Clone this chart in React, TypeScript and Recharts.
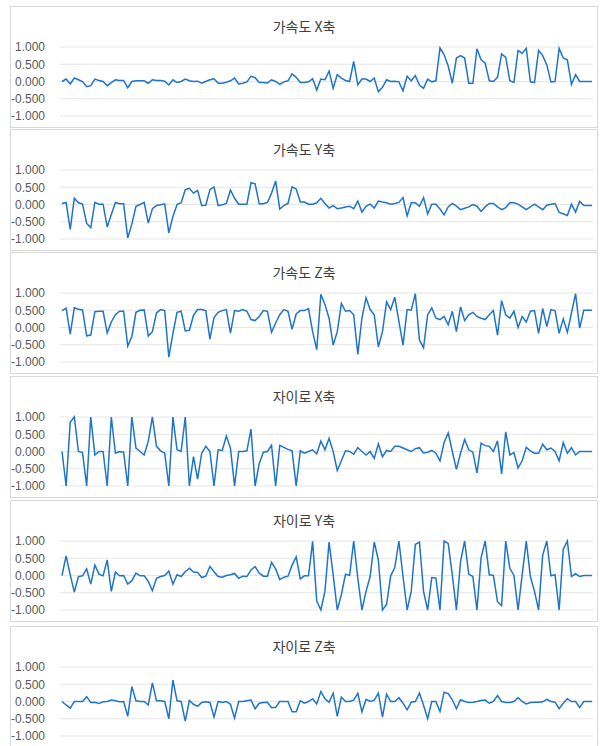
import React from "react";
import { LineChart, Line, XAxis, YAxis, CartesianGrid } from "recharts";

// 가속도 / 자이로 센서 값 (130 samples each)
const accX = [
  0.0, 0.07, -0.07, 0.1, 0.05, 0.0, -0.15, -0.12, 0.07, 0.03,
  0.0, -0.12, -0.03, 0.05, 0.03, 0.03, -0.18, 0.0, 0.02, 0.02,
  0.02, -0.05, 0.05, 0.03, 0.03, 0.01, -0.1, 0.05, -0.03, 0.0,
  0.07, 0.02, 0.0, 0.01, -0.05, 0.0, 0.05, 0.08, -0.05, -0.05,
  -0.02, 0.02, 0.1, -0.07, -0.05, -0.01, 0.15, 0.11, -0.03, -0.03,
  -0.04, 0.05, 0.0, -0.08, -0.01, 0.02, 0.22, 0.12, -0.03, -0.03,
  -0.01, 0.08, -0.25, 0.07, 0.05, 0.3, -0.2, 0.2, 0.1, 0.03,
  0.0, 0.58, -0.1, 0.07, 0.07, 0.0, 0.1, -0.3, -0.17, 0.05,
  0.0, 0.01, -0.01, -0.27, 0.15, 0.02, 0.17, -0.1, -0.2, 0.07,
  -0.01, 0.02, 0.97, 0.78, 0.45, -0.05, 0.68, 0.75, 0.68, -0.05,
  -0.05, 0.95, 0.63, 0.53, 0.02, 0.0, 0.12, 0.8, 0.7, 0.02,
  -0.03, 0.9, 0.82, 0.96, -0.01, -0.03, 0.9, 0.75, 0.48, -0.01,
  0.0, 0.96, 0.68, 0.63, -0.08, 0.2, 0.0, 0.0, 0.0, 0.0,
];

const accY = [
  0.03, 0.06, -0.72, 0.18, 0.05, 0.01, -0.55, -0.67, 0.06, 0.01,
  0.01, -0.65, -0.29, 0.06, 0.02, 0.02, -0.97, -0.57, -0.05, 0.0,
  0.06, -0.54, -0.12, -0.03, -0.01, 0.02, -0.82, -0.35, 0.0, 0.05,
  0.43, 0.47, 0.33, 0.41, -0.03, -0.02, 0.43, 0.51, -0.03, -0.01,
  0.03, 0.42, 0.18, 0.01, 0.01, 0.01, 0.63, 0.6, 0.02, 0.02,
  0.06, 0.33, 0.68, -0.13, -0.03, 0.03, 0.51, 0.45, 0.07, 0.07,
  0.01, 0.01, 0.05, 0.18, 0.03, -0.1, -0.03, -0.12, -0.1, -0.07,
  -0.05, -0.12, 0.1, -0.22, -0.05, 0.01, -0.1, 0.1, 0.07, 0.05,
  0.01, 0.03, 0.06, 0.2, -0.33, 0.05, 0.05, -0.05, 0.2, -0.27,
  0.01, 0.01, -0.13, -0.3, -0.07, 0.03, -0.05, -0.15, -0.11, -0.07,
  0.0, -0.05, -0.2, -0.07, 0.03, 0.03, -0.07, -0.15, -0.09, 0.05,
  0.05, 0.01, -0.07, -0.15, -0.07, 0.01, -0.07, -0.15, -0.02, 0.01,
  0.03, -0.23, -0.27, -0.32, 0.01, -0.22, 0.09, -0.03, -0.03, -0.03,
];

const accZ = [
  0.49, 0.56, -0.19, 0.57, 0.53, 0.51, -0.24, -0.22, 0.46, 0.47,
  0.47, -0.16, 0.16, 0.37, 0.47, 0.47, -0.54, -0.26, 0.44, 0.5,
  0.51, -0.25, -0.12, 0.42, 0.52, 0.49, -0.86, -0.17, 0.44, 0.47,
  -0.1, -0.08, 0.35, 0.52, 0.52, 0.49, -0.34, 0.29, 0.44, 0.49,
  0.52, -0.16, 0.49, 0.47, 0.52, 0.47, 0.23, 0.2, 0.32, 0.49,
  0.47, -0.14, 0.13, 0.37, 0.52, 0.47, -0.05, 0.39, 0.49, 0.49,
  0.55, -0.12, -0.64, 0.96, 0.67, 0.27, -0.51, -0.12, 0.7, 0.47,
  0.49, 0.37, -0.78, 0.27, 0.86, 0.52, 0.37, -0.56, -0.12, 0.74,
  0.52, 0.88, 0.18, -0.51, 0.52, 0.5, 0.98, -0.36, -0.59, 0.37,
  0.57, 0.27, 0.23, 0.32, 0.08, 0.47, -0.12, 0.6, 0.2, 0.37,
  0.44, 0.32, 0.27, 0.23, 0.37, 0.49, -0.22, 0.78, 0.37, 0.27,
  0.47, 0.0, 0.32, 0.16, 0.47, 0.49, -0.17, 0.55, 0.03, 0.52,
  0.49, -0.17, 0.25, -0.14, 0.42, 0.98, -0.02, 0.5, 0.5, 0.5,
];

const gyroX = [
  0.0, -1.0, 0.85, 1.0, 0.0, -0.03, -1.0, 1.0, -0.1, 0.0,
  0.0, -1.0, 1.0, -0.05, 0.0, -0.02, -1.0, 1.0, 0.1, 0.0,
  -0.1, 0.3, 1.0, 0.15, 0.02, -0.05, -1.0, 1.0, 0.05, 0.0,
  1.0, -1.0, -0.15, -0.8, -0.05, 0.15, 0.0, -1.0, 0.05, 0.03,
  0.45, 0.1, -1.0, 0.0, 0.0, 0.02, 0.65, -1.0, -0.35, -0.02,
  0.0, 0.18, -1.0, 0.18, 0.12, 0.06, 0.02, -1.0, 0.02, -0.05,
  0.0, 0.05, -0.07, 0.3, 0.05, 0.38, 0.0, -0.55, -0.27, 0.02,
  0.0, -0.08, 0.11, 0.0, -0.1, 0.0, -0.2, 0.22, -0.15, 0.03,
  0.0, 0.15, 0.15, 0.1, 0.05, 0.0, 0.08, 0.11, -0.04, -0.02,
  0.03, -0.05, -0.27, 0.26, 0.54, 0.0, -0.52, -0.05, 0.35, 0.05,
  -0.02, -0.62, 0.24, 0.17, 0.15, 0.0, 0.31, -0.65, 0.57, -0.1,
  -0.03, -0.48, -0.27, 0.12, 0.02, -0.05, -0.05, 0.21, 0.05, 0.1,
  0.0, -0.27, 0.26, -0.05, 0.11, -0.1, 0.0, 0.0, 0.0, 0.0,
];

const gyroY = [
  0.0, 0.57, 0.02, -0.48, -0.03, -0.01, 0.19, -0.25, 0.3, 0.04,
  -0.01, 0.45, -0.46, 0.1, -0.01, 0.0, -0.25, -0.15, 0.07, -0.01,
  -0.01, -0.17, -0.44, -0.08, -0.03, 0.0, 0.13, -0.25, 0.02, -0.03,
  0.11, 0.21, 0.1, 0.09, -0.06, -0.02, 0.26, 0.11, -0.03, -0.05,
  0.0, 0.02, 0.06, -0.08, -0.02, -0.03, 0.16, 0.26, 0.07, -0.02,
  -0.02, 0.38, 0.19, -0.12, -0.05, -0.02, 0.3, 0.54, -0.1, -0.01,
  -0.01, 0.99, -0.74, -1.0, -0.46, 0.97, 0.02, -1.0, -0.55, 0.04,
  0.0, 1.0, -0.08, -1.0, -0.46, -0.03, 0.97, 0.45, -1.0, -0.84,
  -0.01, 0.23, 1.0, -0.03, -1.0, -0.46, 0.9, 0.97, -0.46, -1.0,
  -0.06, -0.08, -1.0, 1.0, 0.93, 0.02, -1.0, 0.4, 1.0, 0.04,
  -0.03, -1.0, 0.51, 1.0, 0.02, 0.0, -0.76, -0.87, 1.0, 0.21,
  0.0, -1.0, 0.02, 1.0, -0.03, -0.46, -1.0, 0.59, 1.0, -0.01,
  0.02, -1.0, 0.76, 1.0, -0.03, 0.05, -0.03, 0.0, 0.0, 0.0,
];

const gyroZ = [
  0.0, -0.1, -0.19, 0.0, 0.0, 0.0, 0.14, -0.03, -0.02, -0.06,
  -0.01, 0.0, 0.04, 0.02, -0.01, 0.0, -0.43, 0.43, 0.02, 0.0,
  0.0, -0.1, 0.54, 0.02, 0.02, 0.0, -0.5, 0.62, 0.02, 0.0,
  -0.57, 0.03, -0.08, -0.14, -0.03, -0.01, -0.03, -0.45, 0.0, -0.03,
  0.0, -0.08, -0.48, 0.0, 0.0, 0.02, 0.04, -0.21, -0.05, -0.03,
  -0.02, -0.18, -0.17, 0.0, 0.0, 0.0, -0.3, -0.3, 0.02, -0.05,
  0.0, 0.08, -0.07, 0.29, 0.08, -0.02, 0.24, -0.43, 0.13, 0.0,
  0.0, 0.04, 0.24, -0.3, 0.06, 0.0, 0.04, 0.24, -0.45, 0.21,
  0.0, 0.0, 0.11, -0.05, -0.24, -0.02, 0.0, 0.24, -0.11, -0.5,
  0.0, 0.0, -0.29, 0.27, 0.23, 0.05, -0.21, 0.05, 0.0, -0.03,
  -0.02, 0.0, 0.03, 0.04, -0.05, 0.0, 0.17, 0.0, -0.03, -0.03,
  0.0, 0.11, 0.0, -0.07, -0.03, -0.02, -0.02, -0.01, 0.06, 0.0,
  -0.02, -0.21, -0.05, 0.08, 0.0, 0.0, -0.17, 0.0, 0.0, 0.0,
];

const titles = ["가속도 X축", "가속도 Y축", "가속도 Z축", "자이로 X축", "자이로 Y축", "자이로 Z축"];
const series = [accX, accY, accZ, gyroX, gyroY, gyroZ];
const yTicks = [-1, -0.5, 0, 0.5, 1];

const panelTops = [6, 129, 252, 376, 500, 626];
const LINE_COLOR = "#1f74cc";

const Panel = ({ title, values, top }: { title: string; values: number[]; top: number }) => {
  const data = values.map((v, i) => ({ idx: i + 1, v }));
  return (
    <div
      style={{
        position: "absolute",
        left: 10,
        top,
        width: 586,
        height: 120,
        border: "1px solid #d9d9d9",
        background: "#fff",
      }}
    >
      <div
        style={{
          position: "absolute",
          left: 0,
          right: 0,
          top: 9,
          textAlign: "center",
          fontFamily: "'Noto Sans CJK KR', 'Noto Sans', sans-serif",
          fontSize: 14,
          color: "#404040",
          lineHeight: "20px",
        }}
      >
        {title}
      </div>
      <LineChart
        width={586}
        height={118}
        data={data}
        margin={{ top: 40, right: 4, bottom: 9, left: 0 }}
        style={{ position: "absolute", left: 0, top: 0 }}
      >
        <CartesianGrid vertical={false} stroke="#e6e6e6" />
        <XAxis dataKey="idx" hide padding={{ left: 2, right: 1 }} />
        <YAxis
          domain={[-1, 1]}
          ticks={yTicks}
          interval={0}
          width={49}
          axisLine={false}
          tickLine={false}
          tickSize={0}
          tickMargin={15}
          tickFormatter={(v: number) => v.toFixed(3)}
          tick={{ fill: "#595959", fontSize: 12, fontFamily: "'Liberation Sans', Arial, sans-serif" }}
        />
        <Line
          type="linear"
          dataKey="v"
          stroke={LINE_COLOR}
          strokeWidth={1.5}
          dot={false}
          isAnimationActive={false}
        />
      </LineChart>
    </div>
  );
};

export default function App() {
  return (
    <div style={{ position: "absolute", left: 0, top: 0, width: 600, height: 746, background: "#fff", overflow: "hidden" }}>
      {titles.map((t, k) => (
        <Panel key={t} title={t} values={series[k]} top={panelTops[k]} />
      ))}
    </div>
  );
}
